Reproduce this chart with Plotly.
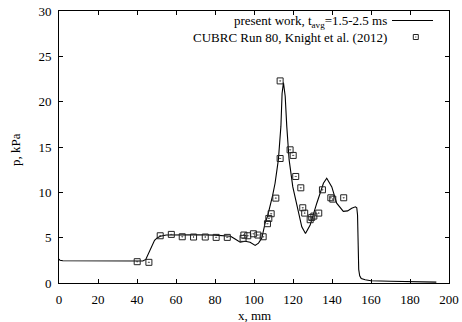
import plotly.graph_objects as go

# Simulation (present work) pressure distribution
sim_x = [0, 0.5, 2, 10, 20, 30, 40, 43, 44.5, 46, 47.5, 49, 50.5, 52, 55, 60, 70, 80,
         86, 88, 90.3, 92.9, 95.5, 98.0, 100.6, 102.3, 104.0, 105.7, 107, 108.3, 109.5,
         110.8, 112.5, 113.8, 114.4, 115.1, 116.0, 116.8, 118.0, 119.9, 122.5, 124.5,
         126.4, 128.8, 132.2, 135.6, 137.3, 139.9, 142.4, 145.8, 148, 150.1, 152, 152.7,
         153.1, 153.4, 153.7, 154.2, 155, 157, 160, 170, 180, 193.5]
sim_p = [2.65, 2.5, 2.46, 2.45, 2.44, 2.43, 2.42, 2.42, 2.6, 3.3, 4.1, 4.7, 5.0, 5.15,
         5.3, 5.32, 5.32, 5.28, 5.22, 5.15, 4.85, 4.5, 4.6, 4.5, 4.15, 4.4, 4.96, 6.6,
         7.4, 8.4, 9.6, 11.0, 13.6, 17.3, 20.9, 22.1, 20.6, 17.3, 13.6, 10.6, 8.1, 6.2,
         5.45, 6.4, 8.8, 11.0, 11.55, 10.6, 8.8, 7.9, 7.95, 8.25, 8.4, 8.3, 7.5, 4.0,
         1.5, 0.8, 0.5, 0.35, 0.25, 0.2, 0.15, 0.1]

# CUBRC Run 80 experimental data
exp_x = [40.1, 46.1, 51.9, 57.6, 63.2, 69.0, 75.0, 80.6, 86.3, 94.4, 94.8, 96.8, 99.7,
         102.0, 104.7, 106.9, 107.6, 108.8, 111.2, 113.4, 113.4, 118.5, 120.1, 121.4,
         124.0, 125.0, 126.0, 128.8, 129.6, 130.7, 133.2, 135.1, 139.4, 140.4, 146.0]
exp_p = [2.35, 2.28, 5.21, 5.36, 5.10, 5.07, 5.07, 5.03, 5.03, 4.92, 5.29, 5.21, 5.43,
         5.29, 5.10, 6.54, 7.12, 7.64, 9.36, 13.73, 22.29, 14.69, 14.07, 11.75, 10.50,
         8.30, 7.71, 6.98, 7.23, 7.38, 7.71, 10.28, 9.40, 9.25, 9.40]

x_ticks = [0, 20, 40, 60, 80, 100, 120, 140, 160, 180, 200]
y_ticks = [0, 5, 10, 15, 20, 25, 30]

legend_labels = ["present work, t<sub>avg</sub>=1.5-2.5 ms",
                 "CUBRC Run 80, Knight et al. (2012)"]

FONT = "Liberation Serif"
L, R, T, B = 59, 13, 11, 39
W, H = 462, 322
PW, PH = W - L - R, H - T - B


def px(xp):
    return (xp - L) / PW


def py(yp):
    return (H - B - yp) / PH


fig = go.Figure()
fig.add_trace(go.Scatter(x=sim_x, y=sim_p, mode="lines",
                         line=dict(color="black", width=1.1), showlegend=False))
fig.add_trace(go.Scatter(x=exp_x, y=exp_p, mode="markers",
                         marker=dict(symbol="square-open-dot", size=6, color="#222",
                                     line=dict(width=1, color="#222")),
                         showlegend=False))

axis_common = dict(showgrid=False, zeroline=False, showline=True, linecolor="black",
                   linewidth=1, mirror="ticks", ticks="inside", ticklen=4,
                   tickcolor="black", automargin=False, ticklabelstandoff=4,
                   tickfont=dict(family=FONT, size=13, color="black"))

fig.update_xaxes(range=[0, 200], tickvals=x_ticks, **axis_common)
fig.update_yaxes(range=[0, 30], tickvals=y_ticks, **axis_common)

# axis titles
fig.add_annotation(xref="paper", yref="paper", x=0.5, y=py(315), xanchor="center",
                   yanchor="middle", showarrow=False, text="x, mm",
                   font=dict(family=FONT, size=13, color="black"))
fig.add_annotation(xref="paper", yref="paper", x=px(15), y=py(150), xanchor="center",
                   yanchor="middle", showarrow=False, text="p, kPa", textangle=-90,
                   font=dict(family=FONT, size=13, color="black"))

# gnuplot-style legend (text right-aligned, key on the right)
fig.add_annotation(xref="paper", yref="paper", x=px(389), y=py(11), xanchor="right",
                   yanchor="top", showarrow=False, align="right",
                   text="<br>".join(legend_labels),
                   font=dict(family=FONT, size=13, color="black"))
fig.add_shape(type="line", xref="paper", yref="paper", x0=px(392), x1=px(433),
              y0=py(20.5), y1=py(20.5), line=dict(color="black", width=1.1))
fig.add_shape(type="rect", xref="paper", yref="paper", x0=px(413.3), x1=px(418.3),
              y0=py(39.5), y1=py(34.5), line=dict(color="#222", width=1))
fig.add_shape(type="rect", xref="paper", yref="paper", x0=px(415.3), x1=px(416.3),
              y0=py(37.5), y1=py(36.5), line=dict(width=0), fillcolor="#222")

fig.update_layout(width=W, height=H, margin=dict(l=L, r=R, t=T, b=B, autoexpand=False),
                  plot_bgcolor="white", paper_bgcolor="white",
                  font=dict(family=FONT, size=13, color="black"))

fig.write_html("out.html")
